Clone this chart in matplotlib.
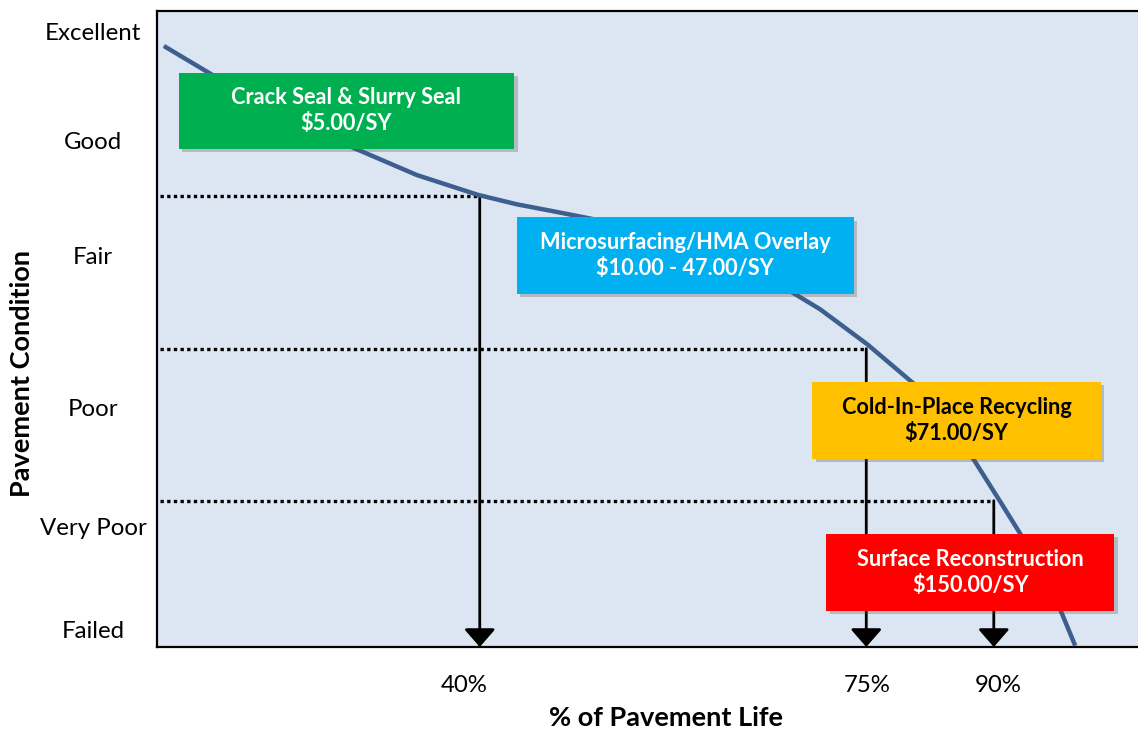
import matplotlib
matplotlib.use("Agg")
import matplotlib.pyplot as plt
import matplotlib.patheffects as pe
from matplotlib.patches import Rectangle

# -------------------------------------------------------
# data (plot units: 0-100 across the axes box)
# -------------------------------------------------------
curve_x = [0.7, 5.7, 10.5, 14.6, 20.0, 26.5, 32.7, 36.7, 40.1, 44.4,
           50.3, 55.4, 60.5, 64.7, 67.6, 72.4, 77.3, 80.3, 83.2, 85.9,
           88.0, 90.0, 92.1, 93.6]
curve_y = [94.5, 89.9, 85.9, 82.6, 78.5, 74.2, 71.1, 69.6, 68.6, 67.3,
           65.1, 62.5, 59.2, 55.8, 53.1, 47.6, 41.2, 36.0, 29.6, 23.0,
           17.8, 12.1, 5.8, 0.2]

condition_labels = ["Excellent", "Good", "Fair", "Poor", "Very Poor", "Failed"]
condition_pos = [96.7, 79.6, 61.5, 37.6, 19.0, 2.7]

life_labels = ["40%", "75%", "90%"]
life_tick_pos = [31.3, 72.4, 85.7]

# trigger points where treatment changes
trigger_x = [32.9, 72.3, 85.3]
trigger_y = [70.9, 46.9, 23.0]

treatments = ["Crack Seal & Slurry Seal", "Microsurfacing/HMA Overlay",
              "Cold-In-Place Recycling", "Surface Reconstruction"]
costs = ["$5.00/SY", "$10.00 - 47.00/SY", "$71.00/SY", "$150.00/SY"]
box_colors = ["#00b050", "#00b0f0", "#ffc000", "#ff0000"]
text_colors = ["white", "white", "black", "white"]
# x0, y0, width, height
box_layout = [(2.2, 78.3, 34.2, 12.0),
              (36.7, 55.5, 34.3, 12.1),
              (66.8, 29.6, 29.4, 12.1),
              (68.2, 5.7, 29.4, 12.1)]

plt.rcParams['font.family'] = ['Lato', 'DejaVu Sans']

fig = plt.figure(figsize=(11.38, 7.32), dpi=100)
ax = fig.add_axes([157 / 1138, 85 / 732, 981 / 1138, 636 / 732])
ax.set_xlim(0, 100)
ax.set_ylim(0, 100)
ax.set_facecolor("#dce6f2")

for s in ["left", "top", "bottom"]:
    ax.spines[s].set_linewidth(1.6)
    ax.spines[s].set_color("black")
ax.spines["right"].set_visible(False)

# condition curve
ax.plot(curve_x, curve_y, color="#3d5f8f", lw=3.2, zorder=3,
        solid_joinstyle="round", solid_capstyle="butt")

# dotted level lines + arrows down to the x axis
for tx, ty in zip(trigger_x, trigger_y):
    ax.plot([0.3, tx], [ty, ty], color="black", lw=2.4,
            linestyle=(0, (1, 1)), zorder=2)
    ax.annotate("", xy=(tx, 0), xytext=(tx, ty),
                arrowprops=dict(arrowstyle="-|>,head_length=0.55,head_width=0.48",
                                mutation_scale=20, lw=2, color="black",
                                shrinkA=0, shrinkB=0),
                annotation_clip=False, zorder=2)

# treatment boxes
for name, cost, fc, tc, (x0, y0, w, h) in zip(treatments, costs, box_colors,
                                              text_colors, box_layout):
    r = Rectangle((x0, y0), w, h, facecolor=fc, edgecolor="none", zorder=5)
    r.set_path_effects([pe.SimplePatchShadow(offset=(2.5, -2.5), alpha=0.3,
                                             shadow_rgbFace="#555555"),
                        pe.Normal()])
    ax.add_patch(r)
    ax.text(x0 + w / 2, y0 + h / 2, name + "\n" + cost, ha="center",
            va="center", color=tc, fontsize=15.7, fontweight="bold",
            linespacing=1.3, zorder=6)

# ticks
ax.set_yticks(condition_pos)
ax.set_yticklabels(condition_labels, fontsize=17.3)
ax.tick_params(axis="y", length=0, pad=46)
for lab in ax.get_yticklabels():
    lab.set_ha("center")

ax.set_xticks(life_tick_pos)
ax.set_xticklabels(life_labels, fontsize=17.3)
ax.tick_params(axis="x", length=0, pad=20)

ax.set_xlabel("% of Pavement Life", fontsize=19.5, fontweight="bold",
              va="center")
ax.xaxis.set_label_coords(509 / 981, -71 / 636)
ax.set_ylabel("Pavement Condition", fontsize=19.5, fontweight="bold",
              va="center")
ax.yaxis.set_label_coords(-135 / 981, 0.43)

fig.savefig("out.png", dpi=100)
